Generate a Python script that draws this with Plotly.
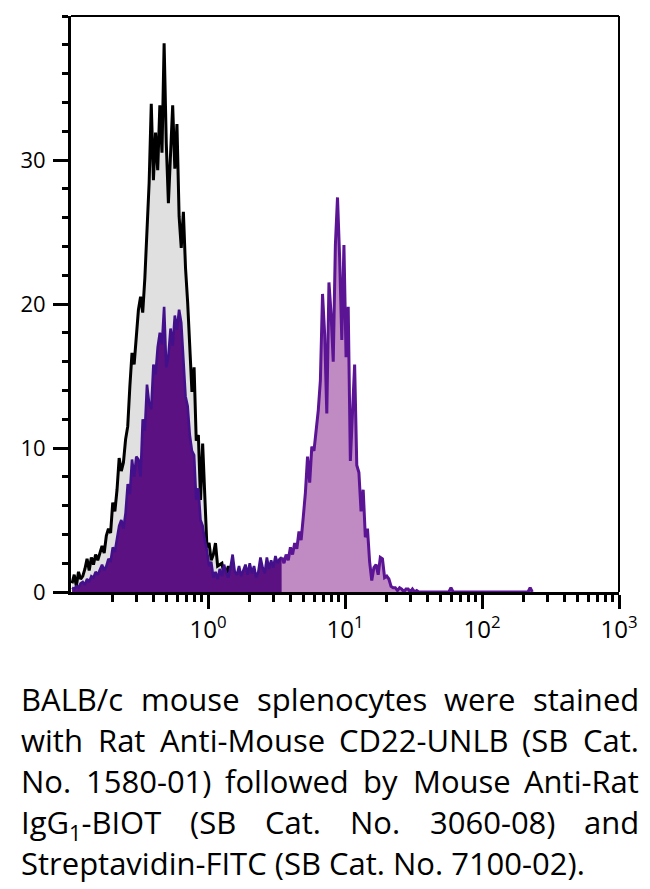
import json

import numpy as np
import plotly.graph_objects as go

# ---------------------------------- Data ---------------------------------------
# histogram channels: 64 per decade, first channel at 10^-1
LOG_MIN = -1
CHANNELS_PER_DECADE = 64

# unstained / isotype control (grey)
control_counts = [
    0.6, 1.2, 0.4, 1.4, 0.9, 1.1, 1.6, 2.3, 1.5, 2.4,
    1.9, 2.6, 2.2, 2.8, 3.2, 2.7, 3.9, 4.4, 4.1, 6.2,
    5.6, 7.1, 9.3, 8.4, 9.0, 10.6, 11.5, 14.3, 16.6, 15.8,
    17.9, 19.6, 20.5, 19.4, 21.8, 25.2, 28.4, 33.9, 28.6, 31.9,
    29.3, 33.8, 30.5, 38.1, 31.2, 27.0, 30.6, 33.8, 29.4, 32.5,
    26.1, 23.9, 26.4, 22.5, 20.1, 17.2, 13.9, 15.6, 10.5, 10.9,
    6.4, 10.3, 6.0, 3.1, 3.4, 2.2, 2.6, 3.4, 1.8, 1.9,
    2.0, 1.2, 1.3, 1.8, 1.1, 1.0, 0.7, 1.1, 0.6, 0.9,
    0.5, 0.8, 0.4, 0.6, 0.3, 0.5, 0.2, 0.4, 0.2, 0.3,
    0.1, 0.3, 0.0, 0.1, 0.0, 0.0,
]

# CD22 stained sample (purple)
stained_counts = [
    0.3, 0.2, 0.4, 0.3, 0.6, 0.7, 0.5, 0.9, 0.7, 1.1,
    1.0, 1.4, 1.2, 1.6, 1.9, 1.5, 1.8, 2.3, 2.1, 3.1,
    2.8, 3.7, 4.6, 5.0, 4.4, 5.5, 7.5, 6.8, 9.2, 8.0,
    9.4, 9.2, 8.0, 12.0, 11.2, 14.4, 13.1, 12.7, 15.8, 15.1,
    17.0, 18.0, 17.2, 19.8, 15.6, 16.4, 18.3, 17.1, 19.2, 18.2,
    19.6, 18.7, 15.9, 13.6, 12.9, 10.9, 9.8, 9.5, 6.4, 7.2,
    5.0, 4.6, 3.6, 2.9, 1.8, 2.1, 1.0, 1.4, 0.9, 1.6,
    1.1, 1.9, 1.3, 1.0, 1.7, 2.6, 1.4, 1.2, 1.8, 1.1,
    1.5, 1.9, 1.2, 2.0, 1.3, 1.8, 1.0, 1.4, 2.4, 1.7,
    1.3, 2.4, 1.6, 2.2, 1.7, 2.5, 2.0, 2.3, 2.4, 2.0,
    2.6, 2.2, 3.1, 2.6, 3.4, 3.0, 4.2, 3.6, 5.2, 6.9,
    9.4, 7.6, 10.1, 9.8, 11.2, 12.6, 14.7, 20.7, 17.9, 12.4,
    21.5, 19.3, 16.0, 24.1, 27.4, 23.2, 17.5, 24.1, 16.3, 19.8,
    9.1, 12.4, 15.8, 8.8, 8.3, 5.6, 7.1, 3.8, 4.4, 2.1,
    0.8, 1.7, 1.9, 1.2, 2.4, 2.3, 1.0, 1.1, 0.9, 0.4,
    0.3, 0.3, 0.1, 0.3, 0.2, 0.0, 0.2, 0.2, 0.0, 0.2,
    0.0, 0.1, 0.0, 0.0, 0.0, 0.0, 0.0, 0.0, 0.0, 0.0,
    0.0, 0.0, 0.0, 0.0, 0.0, 0.0, 0.0, 0.3, 0.0, 0.0,
    0.0, 0.0, 0.0, 0.0, 0.0, 0.0, 0.0, 0.0, 0.0, 0.0,
    0.0, 0.0, 0.0, 0.0, 0.0, 0.0, 0.0, 0.0, 0.0, 0.0,
    0.0, 0.0, 0.0, 0.0, 0.0, 0.0, 0.0, 0.0, 0.0, 0.0,
    0.0, 0.0, 0.0, 0.0, 0.3, 0.0,
]
# channel where the stained fill switches from dark to light purple
SPLIT_CHANNEL = 98

y_tickvals = [0, 10, 20, 30]
x_tickvals = [1, 10, 100, 1000]
x_ticktext = ['10<sup>0</sup>', '10<sup>1</sup>', '10<sup>2</sup>', '10<sup>3</sup>']

# caption, one list of words per line; all but the last line are justified
caption_lines = [
    ['BALB/c', 'mouse', 'splenocytes', 'were', 'stained'],
    ['with', 'Rat', 'Anti-Mouse', 'CD22-UNLB', '(SB', 'Cat.'],
    ['No.', '1580-01)', 'followed', 'by', 'Mouse', 'Anti-Rat'],
    ['IgG<sub>1</sub>-BIOT', '(SB', 'Cat.', 'No.', '3060-08)', 'and'],
    ['Streptavidin-FITC (SB Cat. No. 7100-02).'],
]

# ---------------------------------- Layout constants ---------------------------
W, H = 650, 889
L, R, T, B = 71, 29, 16, 297
PW, PH = W - L - R, H - T - B
FONT = 'Open Sans'
CAPTION_SIZE = 31
TEXT_LEFT, TEXT_RIGHT = 20, 640
line_y = [697, 738, 779, 820, 861]
HALF_LINE = 20  # half height of a caption text box, words are hung from their top


def channel_x(n, start=0):
    ch = np.arange(start, start + n)
    return 10 ** (LOG_MIN + (ch + 0.5) / CHANNELS_PER_DECADE)


def px_to_paper(px, py):
    return (px - L) / PW, (H - B - py) / PH


fig = go.Figure()

# ---------------------------------- Control ---------------------------------------
fig.add_trace(go.Scatter(x=channel_x(len(control_counts)), y=control_counts,
                         mode='lines', line=dict(color='black', width=3),
                         fill='tozeroy', fillcolor='#e0e0e0', name='Control'))

# ---------------------------------- Stained ---------------------------------------
left_part = stained_counts[:SPLIT_CHANNEL + 1]
right_part = stained_counts[SPLIT_CHANNEL:]
fig.add_trace(go.Scatter(x=channel_x(len(left_part)), y=left_part,
                         mode='lines', line=dict(color='#43108c', width=2.6),
                         fill='tozeroy', fillcolor='#5b1181', name='CD22 neg'))
fig.add_trace(go.Scatter(x=channel_x(len(right_part), SPLIT_CHANNEL), y=right_part,
                         mode='lines', line=dict(color='#5a1494', width=3),
                         fill='tozeroy', fillcolor='#c08bc2', name='CD22 pos'))

# ---------------------------------- Frame ---------------------------------------
fig.add_shape(type='line', xref='paper', yref='paper', x0=0, x1=1, y0=1, y1=1,
              line=dict(color='black', width=2))
fig.add_shape(type='line', xref='paper', yref='paper', x0=1, x1=1, y0=0, y1=1,
              line=dict(color='black', width=2))

# ---------------------------------- Caption ---------------------------------------
# words get a rough position here, the post script justifies them with real widths
justify_groups = []
idx = 0
for n, (words, py) in enumerate(zip(caption_lines, line_y)):
    n_chars = sum(len(w) for w in words)
    pos = TEXT_LEFT
    group = []
    for word in words:
        ax, ay = px_to_paper(pos, py - HALF_LINE)
        fig.add_annotation(x=ax, y=ay, xref='paper', yref='paper', text=word,
                           showarrow=False, xanchor='left', yanchor='top',
                           borderpad=0,
                           font=dict(family=FONT, size=CAPTION_SIZE, color='black'))
        pos += (TEXT_RIGHT - TEXT_LEFT) * len(word) / max(n_chars, 1)
        group.append(idx)
        idx += 1
    if n < len(caption_lines) - 1:
        justify_groups.append(group)

post_script = """
document.body.style.margin = '0';
var gd = document.getElementById('{plot_id}');
var groups = %s;
var upd = {};
groups.forEach(function(g) {
    var w = g.map(function(i) {
        var el = gd.querySelector('.annotation[data-index="' + i + '"] .annotation-text');
        return el ? el.getBBox().width : 0;
    });
    var total = w.reduce(function(a, b) { return a + b; }, 0);
    var gap = (%d - %d - total) / (g.length - 1);
    var x = %d;
    g.forEach(function(i, k) {
        upd['annotations[' + i + '].x'] = (x - %d) / %d;
        x += w[k] + gap;
    });
});
Plotly.relayout(gd, upd);
""" % (json.dumps(justify_groups), TEXT_RIGHT, TEXT_LEFT, TEXT_LEFT, L, PW)

# ---------------------------------- Axes ---------------------------------------
minor_x = [m * 10 ** d for d in range(-1, 3) for m in range(2, 10)]

fig.update_xaxes(type='log', range=[-1, 3], showgrid=False, zeroline=False,
                 showline=True, linecolor='black', linewidth=3,
                 ticks='outside', tickvals=x_tickvals, ticktext=x_ticktext,
                 ticklen=14, tickwidth=3, tickcolor='black',
                 tickfont=dict(family=FONT, size=24, color='black'),
                 minor=dict(tickvals=minor_x, ticks='outside', ticklen=7,
                            tickwidth=2.5, tickcolor='black'))
fig.update_yaxes(range=[0, 40], showgrid=False, zeroline=False,
                 showline=True, linecolor='black', linewidth=3,
                 ticks='outside', tickvals=y_tickvals, ticklen=15, tickwidth=3,
                 tickcolor='black', ticklabelstandoff=3,
                 tickfont=dict(family=FONT, size=22, color='black'),
                 minor=dict(dtick=2, ticks='outside', ticklen=6, tickwidth=3,
                            tickcolor='black'))

fig.update_layout(width=W, height=H, margin=dict(l=L, r=R, t=T, b=B),
                  plot_bgcolor='white', paper_bgcolor='white', showlegend=False)

fig.write_html("out.html", post_script=post_script,
               config={'displayModeBar': False})
